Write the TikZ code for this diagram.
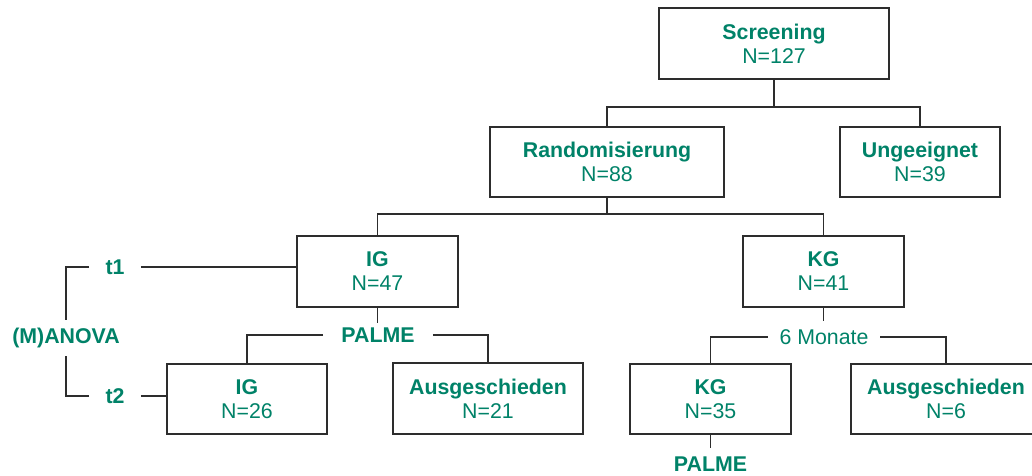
\documentclass[tikz,border=0pt]{standalone}
\usepackage{fontspec}
\setmainfont{Liberation Sans}
\usepackage{tikz}

\begin{document}
\begin{tikzpicture}[x=0.75pt,y=-0.75pt]

	% colours of the flow chart
	\definecolor{textgreen}{RGB}{0,130,104}
	\definecolor{linegray}{RGB}{45,45,45}

	% boxes, free labels and connecting lines
	\tikzset{
		box/.style 2 args={draw=linegray, line width=1pt, minimum width={#1*0.75pt},
			minimum height={#2*0.75pt}, inner sep=0pt, align=center,
			text=textgreen, font=\fontsize{16}{18}\selectfont},
		lbl/.style 2 args={inner xsep=#1, inner ysep=#2, text=textgreen,
			font=\fontsize{16}{18}\selectfont},
		conn/.style={draw=linegray, line width=1pt}
	}

	\useasboundingbox (0,0) rectangle (1032,475);
	\clip (0,0) rectangle (1032,475);

	% first and second row
	\node[box={230}{71}] (screen) at (774,43.5) {\textbf{Screening}\\N=127};
	\node[box={234}{70}] (random) at (607,162) {\textbf{Randomisierung}\\N=88};
	\node[box={160}{70}] (ungeeig) at (920,162) {\textbf{Ungeeignet}\\N=39};

	% groups at t1
	\node[box={161}{71}] (ig) at (377.5,271.5) {\textbf{IG}\\N=47};
	\node[box={161}{71}] (kg) at (823.5,271.5) {\textbf{KG}\\N=41};

	% groups at t2
	\node[box={160}{70}] (igend) at (247,399) {\textbf{IG}\\N=26};
	\node[box={190}{71}] (ausig) at (488,398.5) {\textbf{Ausgeschieden}\\N=21};
	\node[box={161}{70}] (kgend) at (710.5,399) {\textbf{KG}\\N=35};
	\node[box={190}{70}] (auskg) at (946,399) {\textbf{Ausgeschieden}\\N=6};

	% free labels
	\node[lbl={12pt}{3pt}, font=\fontsize{16}{18}\selectfont\bfseries] (t1) at (115,267) {t1};
	\node[lbl={12pt}{3pt}, font=\fontsize{16}{18}\selectfont\bfseries] (t2) at (115,396) {t2};
	\node[lbl={3pt}{6pt}, font=\fontsize{16}{18}\selectfont\bfseries] (manova) at (66,338) {(M)ANOVA};
	\node[lbl={13.5pt}{3.3pt}, font=\fontsize{16}{18}\selectfont\bfseries] (palmeig) at (378,335) {PALME};
	\node[lbl={8.7pt}{6.3pt}] (monate) at (824,337) {6 Monate};
	\node[lbl={8pt}{6.3pt}, font=\fontsize{16}{18}\selectfont\bfseries] (palmekg) at (710.5,464) {PALME};

	% screening split
	\coordinate (splitscr) at (774,107);
	\draw[conn] (screen.south) -- (splitscr);
	\draw[conn] (random.north) |- (splitscr) -| (ungeeig.north);

	% randomisation split
	\coordinate (splitrand) at (607,214);
	\draw[conn] (random.south) -- (splitrand);
	\draw[conn] (ig.north) |- (splitrand) -| (kg.north);

	% intervention group
	\draw[conn] (ig.south) -- (ig.south |- palmeig.north);
	\draw[conn] (palmeig.west) -| (igend.north);
	\draw[conn] (palmeig.east) -| (ausig.north);

	% control group
	\draw[conn] (kg.south) -- (kg.south |- monate.north);
	\draw[conn] (monate.west) -| (kgend.north);
	\draw[conn] (monate.east) -| (auskg.north);
	\draw[conn] (kgend.south) -- (kgend.south |- palmekg.north);

	% measurement times
	\draw[conn] (t1.west) -| (manova.north);
	\draw[conn] (t2.west) -| (manova.south);
	\draw[conn] (t1.east) -- (t1.east -| ig.west);
	\draw[conn] (t2.east) -- (t2.east -| igend.west);

\end{tikzpicture}
\end{document}
